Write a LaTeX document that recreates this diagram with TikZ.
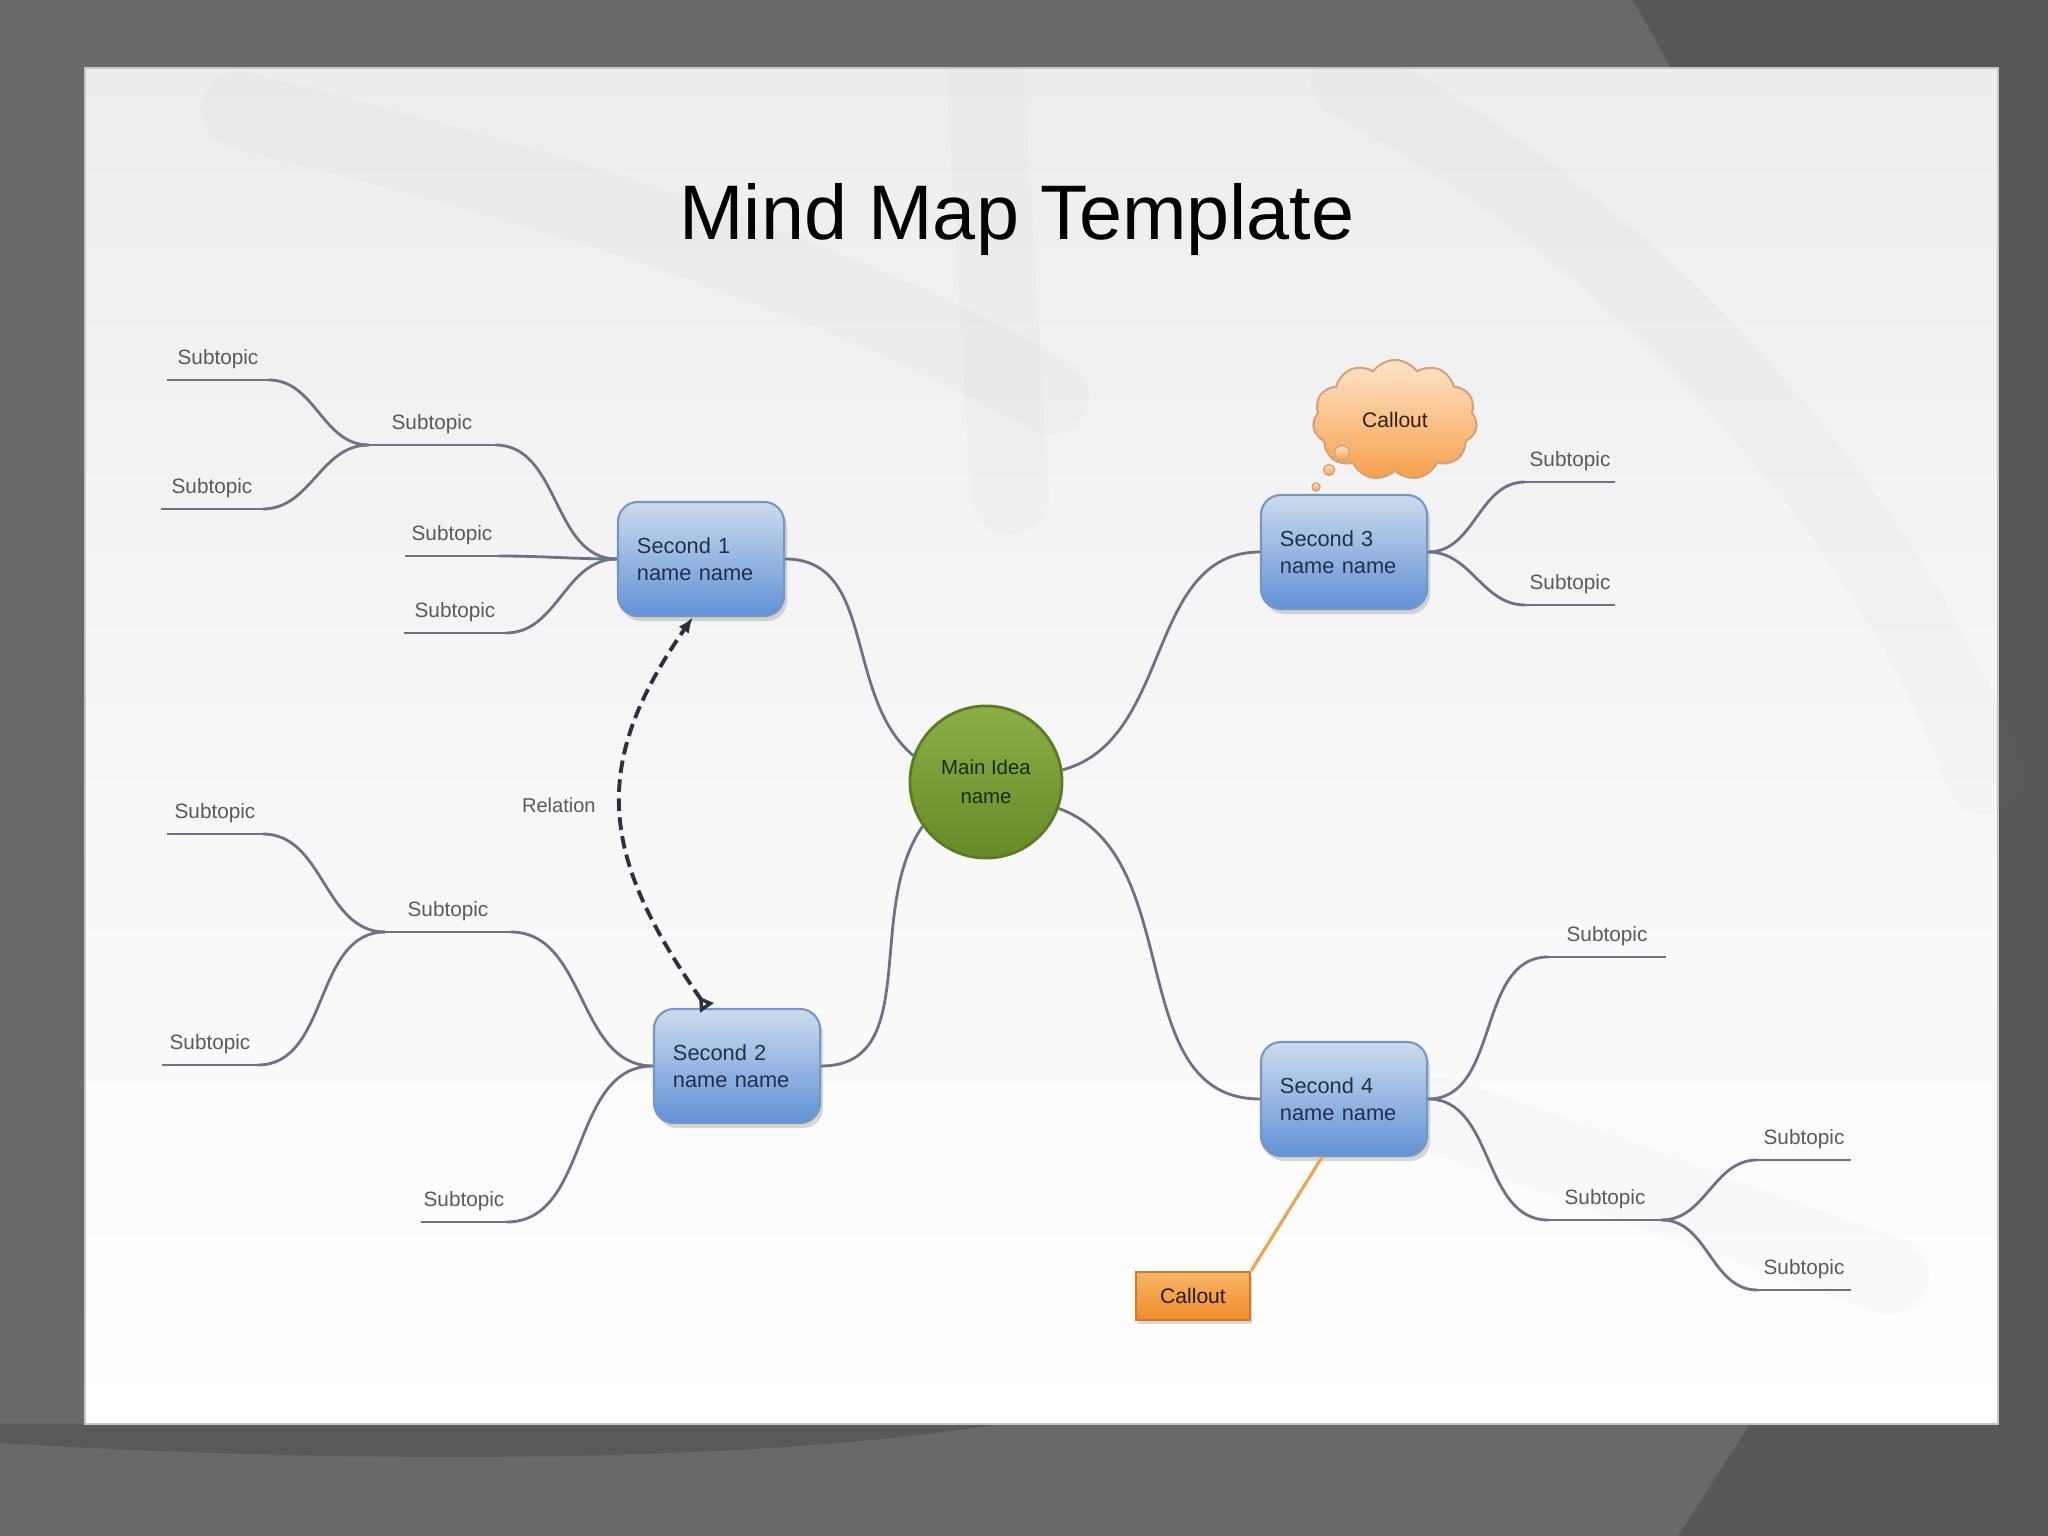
\documentclass[tikz,border=0pt]{standalone}
\usepackage{fontspec}
\setmainfont{Liberation Sans}
\usetikzlibrary{arrows.meta,shapes.symbols,shadows}

\definecolor{framec}{HTML}{69686B}
\definecolor{framedark}{HTML}{58575A}
\definecolor{branchc}{HTML}{6E7286}
\definecolor{boxtop}{HTML}{CCDBEE}
\definecolor{boxbot}{HTML}{6192D6}
\definecolor{boxline}{HTML}{7896C4}
\definecolor{boxtext}{HTML}{22304A}
\definecolor{ideatop}{HTML}{8BAF45}
\definecolor{ideabot}{HTML}{678A2A}
\definecolor{idealine}{HTML}{5A7A24}
\definecolor{ideatext}{HTML}{1E2A0E}
\definecolor{cloudtop}{HTML}{FDE3C8}
\definecolor{cloudbot}{HTML}{F6A04C}
\definecolor{cloudline}{HTML}{D6A27C}
\definecolor{calltop}{HTML}{F9B566}
\definecolor{callbot}{HTML}{EE8C2A}
\definecolor{callline}{HTML}{D47A22}
\definecolor{relc}{HTML}{2C3142}
\definecolor{subtext}{HTML}{5A5A5A}

\begin{document}
\begin{tikzpicture}[x=0.01cm, y=0.01cm, >=Latex,
  second/.style={rectangle, rounded corners=0.2cm, minimum width=1.66cm, minimum height=1.14cm,
    text width=1.28cm, inner xsep=0.19cm, align=left, top color=boxtop, bottom color=boxbot,
    draw=boxline, line width=0.6pt, font=\fontsize{6.2}{7.7}\selectfont, text=boxtext,
    drop shadow={opacity=0.3, shadow xshift=0.03cm, shadow yshift=-0.05cm}},
  idea/.style={circle, minimum size=1.52cm, inner sep=0pt, align=center,
    top color=ideatop, bottom color=ideabot, draw=idealine, line width=0.8pt,
    font=\fontsize{5.8}{8.2}\selectfont, text=ideatext},
  subtopic/.style={font=\fontsize{5.9}{7}\selectfont, text=subtext, inner xsep=0pt,
    inner ysep=3pt, anchor=south},
  branch/.style={draw=branchc, line width=0.8pt},
  relation/.style={draw=relc, line width=1.1pt, dash pattern=on 3.6pt off 1.8pt},
  cloudnote/.style={cloud, cloud puffs=11, cloud puff arc=110, aspect=1.4,
    minimum width=1.64cm, minimum height=1.2cm, top color=cloudtop, bottom color=cloudbot,
    draw=cloudline, line width=0.6pt, font=\fontsize{6}{7}\selectfont, text=black!75!brown},
  bubble/.style={circle, inner sep=0pt, top color=cloudtop, bottom color=cloudbot, draw=cloudline},
  callnote/.style={rectangle, minimum width=1.14cm, minimum height=0.48cm, top color=calltop,
    bottom color=callbot, draw=callline, line width=0.6pt, font=\fontsize{6}{7}\selectfont,
    text=black!80!brown, drop shadow={opacity=0.3, shadow xshift=0.02cm, shadow yshift=-0.04cm}},
  calllink/.style={draw=callbot!80!white, line width=0.9pt},
  swoosh/.style={line width=22pt, line cap=round, gray, opacity=0.03}]

  \useasboundingbox (0,0) rectangle (2048,1536);

  % Frame round the slide
  \fill[framec] (0,0) rectangle (2048,1536);
  \fill[framedark] (1633,1536) -- (2048,1536) -- (2048,0) -- (1678,0) -- (1750,112) -- (1671,1468) -- cycle;
  \fill[framedark!95!framec] (0,112) -- (0,93) .. controls (350,72) and (750,72) .. (1000,112) -- cycle;

  % Slide
  \shade[top color=black!7, bottom color=white, draw=gray!45, line width=0.4pt] (85,112) rectangle (1998,1468);
  \draw[swoosh] (240,1426) .. controls (500,1360) and (800,1280) .. (1050,1140);
  \draw[swoosh] (985,1460) .. controls (995,1300) and (1000,1200) .. (1010,1040);
  \draw[swoosh] (1350,1455) .. controls (1650,1300) and (1900,1000) .. (1985,760);
  \draw[swoosh] (1440,420) .. controls (1560,380) and (1720,320) .. (1890,260);

  % Title
  \node[font=\fontsize{22}{26}\selectfont, anchor=base] (title) at (1017,1296) {Mind Map Template};

  % Main idea and second level
  \node[idea] (main) at (986,754) {Main Idea\\name};
  \node[second] (s1) at (701,977) {Second 1\\name name};
  \node[second] (s2) at (737,470) {Second 2\\name name};
  \node[second] (s3) at (1344,984) {Second 3\\name name};
  \node[second] (s4) at (1344,437) {Second 4\\name name};

  % Subtopics, left side
  \node[subtopic, minimum width=1.25cm] (t1a) at (432,1091) {Subtopic};
  \node[subtopic, minimum width=1.00cm] (t1a1) at (218,1156) {Subtopic};
  \node[subtopic, minimum width=1.00cm] (t1a2) at (212,1027) {Subtopic};
  \node[subtopic, minimum width=0.92cm] (t1b) at (452,980) {Subtopic};
  \node[subtopic, minimum width=1.00cm] (t1c) at (455,903) {Subtopic};
  \node[subtopic, minimum width=1.24cm] (t2a) at (448,604) {Subtopic};
  \node[subtopic, minimum width=0.94cm] (t2a1) at (215,702) {Subtopic};
  \node[subtopic, minimum width=0.94cm] (t2a2) at (210,471) {Subtopic};
  \node[subtopic, minimum width=0.84cm] (t2b) at (464,314) {Subtopic};

  % Subtopics, right side
  \node[subtopic, minimum width=0.88cm] (t3a) at (1570,1054) {Subtopic};
  \node[subtopic, minimum width=0.88cm] (t3b) at (1570,931) {Subtopic};
  \node[subtopic, minimum width=1.16cm] (t4a) at (1607,579) {Subtopic};
  \node[subtopic, minimum width=1.12cm] (t4b) at (1605,316) {Subtopic};
  \node[subtopic, minimum width=0.92cm] (t4b1) at (1804,376) {Subtopic};
  \node[subtopic, minimum width=0.92cm] (t4b2) at (1804,246) {Subtopic};

  \foreach \n in {t1a,t1a1,t1a2,t1b,t1c,t2a,t2a1,t2a2,t2b,t3a,t3b,t4a,t4b,t4b1,t4b2}
    \draw[branch] (\n.south west) -- (\n.south east);

  % Branches
  \foreach \p/\c in {s1/t1a, s1/t1b, s1/t1c, s2/t2a, s2/t2b}
    \draw[branch] (\p.west) to[out=180, in=0] (\c.south east);
  \foreach \p/\c in {t1a/t1a1, t1a/t1a2, t2a/t2a1, t2a/t2a2}
    \draw[branch] (\p.south west) to[out=180, in=0] (\c.south east);
  \foreach \p/\c in {s3/t3a, s3/t3b, s4/t4a, s4/t4b}
    \draw[branch] (\p.east) to[out=0, in=180] (\c.south west);
  \foreach \p/\c in {t4b/t4b1, t4b/t4b2}
    \draw[branch] (\p.south east) to[out=0, in=180] (\c.south west);

  \draw[branch] (s1.east) to[out=0, in=140] (main.160);
  \draw[branch] (s2.east) to[out=0, in=235] (main.215);
  \draw[branch] (main.9) to[out=15, in=180] (s3.west);
  \draw[branch] (main.-20) to[out=-20, in=180] (s4.west);

  % Relation
  \draw[relation, {Triangle[open, reversed, length=4pt, width=4.5pt]}-{Latex[length=4.5pt, width=3.5pt]}]
    ([xshift=-0.30cm]s2.north) to[out=125, in=235, looseness=1.2] ([xshift=-0.08cm]s1.south);
  \node[font=\fontsize{5.7}{7}\selectfont, text=subtext, anchor=east] (rel) at (608,731) {Relation};

  % Callouts
  \node[cloudnote] (cloud) at (1395,1116) {Callout};
  \node[bubble, minimum size=0.15cm] (b1) at (1342,1083) {};
  \node[bubble, minimum size=0.11cm] (b2) at (1329,1066) {};
  \node[bubble, minimum size=0.08cm] (b3) at (1316,1049) {};

  \node[callnote] (callbox) at (1193,240) {Callout};
  \draw[calllink] (callbox.north east) -- ([xshift=-0.22cm]s4.south);
\end{tikzpicture}
\end{document}
